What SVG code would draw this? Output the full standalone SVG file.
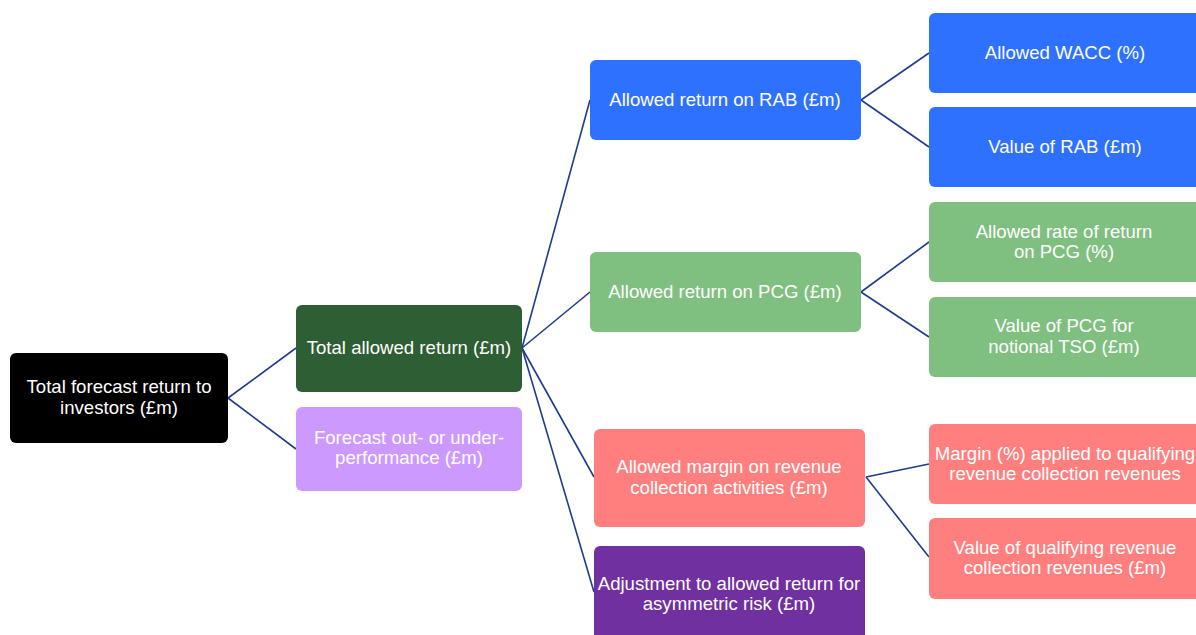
<svg xmlns="http://www.w3.org/2000/svg" width="1196" height="635" viewBox="0 0 1196 635">
<style>
text{font-family:"Liberation Sans",Arial,sans-serif;font-size:18.6px;fill:#fff;text-anchor:middle}
.c{stroke:#1F3C8C;stroke-width:1.6;fill:none}
</style>
<rect width="1196" height="635" fill="#fff"/>
<g id="connectors">
<line class="c" x1="228" y1="398" x2="296" y2="348"/>
<line class="c" x1="228" y1="398" x2="296" y2="449"/>
<line class="c" x1="522" y1="348" x2="590" y2="100"/>
<line class="c" x1="522" y1="348" x2="590" y2="292"/>
<line class="c" x1="522" y1="348" x2="594" y2="477"/>
<line class="c" x1="522" y1="348" x2="594" y2="592"/>
<line class="c" x1="861" y1="100" x2="929" y2="53"/>
<line class="c" x1="861" y1="100" x2="929" y2="147"/>
<line class="c" x1="861" y1="292" x2="929" y2="242"/>
<line class="c" x1="861" y1="292" x2="929" y2="337"/>
<line class="c" x1="866" y1="477" x2="929" y2="464"/>
<line class="c" x1="866" y1="477" x2="929" y2="557"/>
</g>
<g id="root"><rect x="10" y="353" width="218" height="90" rx="6" fill="#000"/><text x="119" y="393">Total forecast return to</text><text x="119" y="414">investors (£m)</text></g>
<g id="total-allowed"><rect x="296" y="305" width="226" height="87" rx="6" fill="#2E5E34"/><text x="409" y="354">Total allowed return (£m)</text></g>
<g id="forecast"><rect x="296" y="407" width="226" height="84" rx="6" fill="#CC99FF"/><text x="409" y="444">Forecast out- or under-</text><text x="409" y="464">performance (£m)</text></g>
<g id="rab"><rect x="590" y="60" width="271" height="80" rx="6" fill="#2E71FF"/><text x="725" y="106">Allowed return on RAB (£m)</text></g>
<g id="wacc"><rect x="929" y="13" width="275" height="80" rx="6" fill="#2E71FF"/><text x="1065" y="59">Allowed WACC (%)</text></g>
<g id="value-rab"><rect x="929" y="107" width="275" height="80" rx="6" fill="#2E71FF"/><text x="1065" y="153">Value of RAB (£m)</text></g>
<g id="pcg"><rect x="590" y="252" width="271" height="80" rx="6" fill="#7FBF7F"/><text x="725" y="298">Allowed return on PCG (£m)</text></g>
<g id="rate-pcg"><rect x="929" y="202" width="275" height="80" rx="6" fill="#7FBF7F"/><text x="1064" y="238">Allowed rate of return</text><text x="1064" y="258">on PCG (%)</text></g>
<g id="value-pcg"><rect x="929" y="297" width="275" height="80" rx="6" fill="#7FBF7F"/><text x="1064" y="332">Value of PCG for</text><text x="1064" y="353">notional TSO (£m)</text></g>
<g id="margin"><rect x="594" y="429" width="271" height="98" rx="6" fill="#FF7F7F"/><text x="729" y="473">Allowed margin on revenue</text><text x="729" y="494">collection activities (£m)</text></g>
<g id="margin-pct"><rect x="929" y="424" width="275" height="80" rx="6" fill="#FF7F7F"/><text x="1065" y="460">Margin (%) applied to qualifying</text><text x="1065" y="480">revenue collection revenues</text></g>
<g id="value-qual"><rect x="929" y="518" width="275" height="81" rx="6" fill="#FF7F7F"/><text x="1065" y="554">Value of qualifying revenue</text><text x="1065" y="574">collection revenues (£m)</text></g>
<g id="adjustment"><rect x="594" y="546" width="271" height="100" rx="6" fill="#7030A0"/><text x="729" y="590">Adjustment to allowed return for</text><text x="729" y="610">asymmetric risk (£m)</text></g>
</svg>
